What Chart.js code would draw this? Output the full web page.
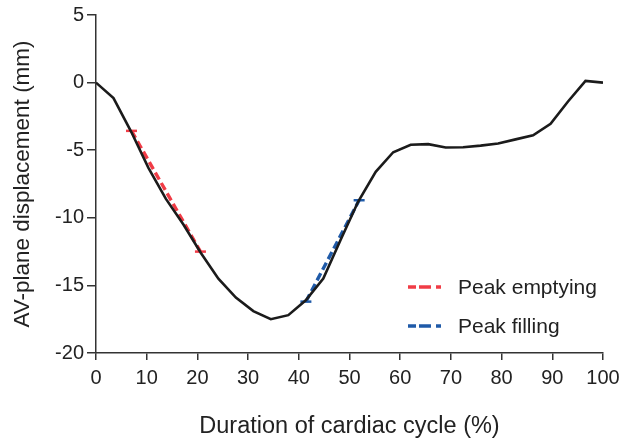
<!DOCTYPE html>
<html>
<head>
<meta charset="utf-8">
<script src="https://cdn.jsdelivr.net/npm/chart.js@4.4.1/dist/chart.umd.min.js"></script>
<style>
  html, body { margin: 0; padding: 0; background: #fff; }
  #wrap { width: 622px; height: 443px; }
</style>
</head>
<body>
<div id="wrap"><canvas id="chart"></canvas></div>
<script>
// cycle samples (% of cardiac cycle) and AV-plane displacement (mm)
const cyclePct = [0, 3.45, 6.9, 10.34, 13.79, 17.24, 20.69, 24.14, 27.59, 31.03,
  34.48, 37.93, 41.38, 44.83, 48.28, 51.72, 55.17, 58.62, 62.07, 65.52,
  68.97, 72.41, 75.86, 79.31, 82.76, 86.21, 89.66, 93.1, 96.55, 100];
const displacement = [0, -1.15, -3.6, -6.3, -8.6, -10.5, -12.6, -14.5, -15.9, -16.9,
  -17.5, -17.2, -16.1, -14.5, -11.6, -8.8, -6.6, -5.15, -4.6, -4.55,
  -4.8, -4.78, -4.66, -4.5, -4.2, -3.9, -3.05, -1.4, 0.13, 0];

// peak slopes: [start, end]
const emptyingX = [7.0, 20.6];
const emptyingY = [-3.57, -12.5];
const fillingX = [41.4, 51.9];
const fillingY = [-16.2, -8.7];

const xTicks = [0, 10, 20, 30, 40, 50, 60, 70, 80, 90, 100];
const yTicks = [5, 0, -5, -10, -15, -20];

const FONT = "'Liberation Sans', Arial, sans-serif";
const AXIS = "#333333";
const RED = "#f03c46";
const BLUE = "#1f5aa8";

const toPts = (xs, ys) => xs.map((x, i) => ({ x: x, y: ys[i] }));

// legend drawn inside the plot, lower right
const insideLegend = {
  id: "insideLegend",
  afterDraw(chart) {
    const ctx = chart.ctx;
    const items = chart.data.datasets.filter((d) => d.inLegend);
    ctx.save();
    ctx.font = "21px " + FONT;
    ctx.textBaseline = "middle";
    items.forEach((d, i) => {
      const y = 287 + i * 39;
      ctx.strokeStyle = d.borderColor;
      ctx.lineWidth = 3.5;
      [[408, 416], [419, 431], [436, 441]].forEach(([a, b]) => {
        ctx.beginPath();
        ctx.moveTo(a, y);
        ctx.lineTo(b, y);
        ctx.stroke();
      });
      ctx.fillStyle = "#222";
      ctx.fillText(d.label, 458, y + 1);
    });
    ctx.restore();
  },
};

new Chart(document.getElementById("chart"), {
  type: "line",
  data: {
    datasets: [
      {
        label: "AV-plane displacement",
        data: toPts(cyclePct, displacement),
        borderColor: "#1b1b1b",
        borderWidth: 2.6,
        pointRadius: 0,
        tension: 0,
      },
      {
        label: "Peak emptying",
        inLegend: true,
        data: toPts(emptyingX, emptyingY),
        borderColor: RED,
        borderWidth: 3.4,
        borderDash: [8, 4],
        pointStyle: "line",
        pointRadius: 5.5,
        pointBorderWidth: 2.5,
        pointBorderColor: RED,
        tension: 0,
      },
      {
        label: "Peak filling",
        inLegend: true,
        data: toPts(fillingX, fillingY),
        borderColor: BLUE,
        borderWidth: 3.4,
        borderDash: [8, 4],
        pointStyle: "line",
        pointRadius: 5.5,
        pointBorderWidth: 2.5,
        pointBorderColor: BLUE,
        tension: 0,
      },
    ],
  },
  options: {
    responsive: true,
    maintainAspectRatio: false,
    animation: false,
    layout: { padding: { left: 0, right: 19, top: 15, bottom: 0 } },
    plugins: {
      legend: { display: false },
      tooltip: { enabled: false },
    },
    scales: {
      x: {
        type: "linear",
        min: 0,
        max: 100,
        afterFit: (scale) => {
          scale.height = 90;
          scale.paddingLeft = 0;
          scale.paddingRight = 0;
        },
        afterBuildTicks: (scale) => { scale.ticks = xTicks.map((v) => ({ value: v })); },
        border: { display: true, color: AXIS, width: 1.5 },
        grid: { drawOnChartArea: false, drawTicks: true, tickLength: 7, color: AXIS, lineWidth: 1.5 },
        ticks: { color: "#222", padding: 6, font: { family: FONT, size: 20 } },
        title: {
          display: true,
          text: "Duration of cardiac cycle (%)",
          color: "#222",
          font: { family: FONT, size: 23.5 },
          padding: { top: 0, bottom: 2 },
        },
      },
      y: {
        type: "linear",
        min: -20,
        max: 5,
        afterFit: (scale) => {
          scale.width = 96;
          scale.paddingTop = 0;
          scale.paddingBottom = 0;
        },
        afterBuildTicks: (scale) => { scale.ticks = yTicks.map((v) => ({ value: v })); },
        border: { display: true, color: AXIS, width: 1.5 },
        grid: { drawOnChartArea: false, drawTicks: true, tickLength: 9, color: AXIS, lineWidth: 1.5 },
        ticks: { color: "#222", padding: 3, font: { family: FONT, size: 20 } },
        title: {
          display: true,
          text: "AV-plane displacement (mm)",
          color: "#222",
          font: { family: FONT, size: 22.5 },
          padding: { top: 9, bottom: 0 },
        },
      },
    },
  },
  plugins: [insideLegend],
});
</script>
</body>
</html>
